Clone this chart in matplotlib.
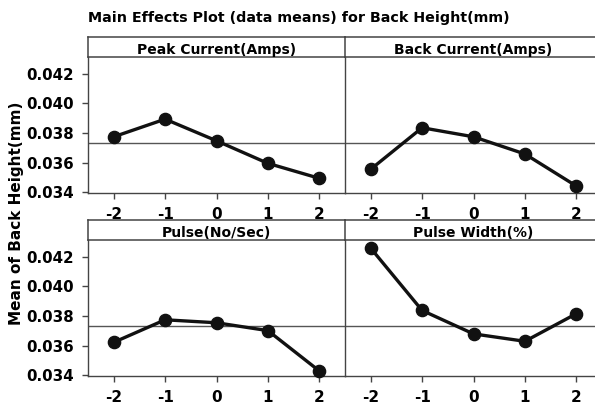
import matplotlib
matplotlib.use("Agg")
import matplotlib.pyplot as plt

# data (Minitab main effects plot)
levels = [-2, -1, 0, 1, 2]
peak_current = [0.03774, 0.03893, 0.03747, 0.03595, 0.03494]
back_current = [0.03555, 0.03835, 0.03774, 0.03658, 0.03442]
pulse = [0.03622, 0.03774, 0.03754, 0.03701, 0.03429]
pulse_width = [0.04257, 0.03837, 0.03679, 0.03629, 0.03815]
grand_mean = 0.03734

panel_titles = ["Peak Current(Amps)", "Back Current(Amps)",
                "Pulse(No/Sec)", "Pulse Width(%)"]
panel_data = [peak_current, back_current, pulse, pulse_width]
yticks = [0.034, 0.036, 0.038, 0.040, 0.042]
ytick_labels = ["0.034", "0.036", "0.038", "0.040", "0.042"]

W, H = 595, 405
FONT = "DejaVu Sans"
frame_col = "#444444"

plt.rcParams["font.family"] = FONT
plt.rcParams["font.weight"] = "bold"

fig = plt.figure(figsize=(W / 100, H / 100), dpi=100)

def px_box(x0, y0, x1, y1):
	# pixel box (top-left origin) -> figure fraction rect
	return [x0 / W, 1 - y1 / H, (x1 - x0) / W, (y1 - y0) / H]

cols = [(88, 345), (345, 602)]
rows = [(37, 57, 193), (220, 240, 376)]   # header top, header bottom / data top, data bottom

for i, (title, vals) in enumerate(zip(panel_titles, panel_data)):
	r, c = divmod(i, 2)
	x0, x1 = cols[c]
	ht, hb, db = rows[r]

	ax = fig.add_axes(px_box(x0, hb, x1, db))
	ax.patch.set_visible(False)
	ax.axhline(grand_mean, color="#555555", lw=1.0, zorder=1)
	ax.plot(levels, vals, color="#111111", lw=2.4, marker="o", ms=8.8,
			zorder=3, clip_on=False)
	ax.set_xlim(-2.5, 2.5)
	ax.set_ylim(0.03395, 0.04312)
	ax.set_xticks(levels)
	ax.set_xticklabels([str(v) for v in levels], fontsize=11, fontweight="bold")
	ax.set_yticks(yticks)
	if c == 0:
		ax.set_yticklabels(ytick_labels, fontsize=10.8, fontweight="bold")
	else:
		ax.tick_params(axis="y", left=False, labelleft=False)
	ax.tick_params(direction="out", length=4, width=1, color=frame_col, pad=6)
	ax.spines["top"].set_visible(False)
	ax.spines["right"].set_visible(False)
	for s in ["left", "bottom"]:
		ax.spines[s].set_color(frame_col); ax.spines[s].set_linewidth(1.0)

	# header strip
	hax = fig.add_axes(px_box(x0, ht, x1, hb))
	hax.patch.set_visible(False)
	hax.set_xticks([]); hax.set_yticks([])
	for s in hax.spines.values():
		s.set_color(frame_col); s.set_linewidth(1.1)
	hax.spines["right"].set_visible(False)
	hax.text(0.5, -0.02, title, ha="center", va="bottom", fontsize=10,
			fontweight="bold", transform=hax.transAxes)

fig.text(88 / W, 1 - 18 / H, "Main Effects Plot (data means) for Back Height(mm)",
		ha="left", va="center", fontsize=10.3, fontweight="bold")
fig.text(17 / W, 1 - 213 / H, "Mean of Back Height(mm)", rotation=90,
		ha="center", va="center", fontsize=11, fontweight="bold")

fig.savefig("out.png", dpi=100)
